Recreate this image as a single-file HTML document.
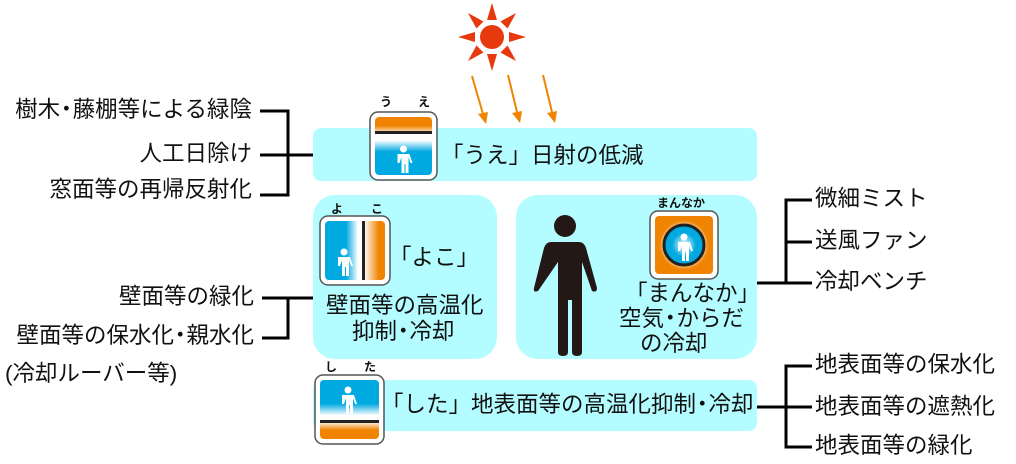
<!DOCTYPE html>
<html><head><meta charset="utf-8"><style>
body{margin:0;width:1016px;height:464px;background:#fff;position:relative;overflow:hidden;font-family:"Liberation Sans","Noto Sans CJK JP",sans-serif;color:#111}
.t{position:absolute;font-size:22.5px;white-space:nowrap;line-height:1}
.d{margin:0 -5px}
.box{position:absolute;background:#b3fcff}
.s{position:absolute;font-size:12px;font-weight:bold;line-height:1}
</style></head><body>
<div class="box" style="left:313px;top:128px;width:444px;height:53px;border-radius:8px"></div>
<div class="box" style="left:313px;top:195px;width:184px;height:164px;border-radius:22px"></div>
<div class="box" style="left:516px;top:195px;width:241px;height:164px;border-radius:22px"></div>
<div class="box" style="left:313px;top:380px;width:444px;height:51px;border-radius:8px"></div>

<svg width="1016" height="464" style="position:absolute;left:0;top:0">
<defs>
<linearGradient id="gu" x1="0" y1="0" x2="0" y2="1"><stop offset="0" stop-color="#f08300"/><stop offset="0.15" stop-color="#f08300"/><stop offset="0.3" stop-color="#fff"/><stop offset="0.4" stop-color="#fff"/><stop offset="0.6" stop-color="#00a9e0"/></linearGradient>
<linearGradient id="gd" x1="0" y1="1" x2="0" y2="0"><stop offset="0" stop-color="#f08300"/><stop offset="0.15" stop-color="#f08300"/><stop offset="0.3" stop-color="#fff"/><stop offset="0.4" stop-color="#fff"/><stop offset="0.6" stop-color="#00a9e0"/></linearGradient>
<linearGradient id="gy" x1="1" y1="0" x2="0" y2="0"><stop offset="0" stop-color="#f08300"/><stop offset="0.1" stop-color="#f08300"/><stop offset="0.35" stop-color="#fff"/><stop offset="0.45" stop-color="#fff"/><stop offset="0.65" stop-color="#00a9e0"/></linearGradient>
<radialGradient id="gm"><stop offset="0.55" stop-color="#fff"/><stop offset="0.85" stop-color="#f08300"/></radialGradient>
<radialGradient id="gc"><stop offset="0" stop-color="#fff"/><stop offset="0.6" stop-color="#00a9e0"/></radialGradient>
<g id="p" fill="#fff"><circle cx="0" cy="-9" r="3.5"/><path d="M-6,-4 h12 l3,9 h-2 l-2,-6 v16 h-3 v-9 h-1 v9 h-3 v-16 l-2,6 h-2z"/></g>
</defs>
<g fill="#e8380d"><circle cx="492" cy="37" r="12"/>
<g id="ray"><polygon points="487,20 497,20 492,3"/></g>
<use href="#ray" transform="rotate(45 492 37)"/><use href="#ray" transform="rotate(90 492 37)"/><use href="#ray" transform="rotate(135 492 37)"/><use href="#ray" transform="rotate(180 492 37)"/><use href="#ray" transform="rotate(225 492 37)"/><use href="#ray" transform="rotate(270 492 37)"/><use href="#ray" transform="rotate(315 492 37)"/></g>
<g stroke="#f08300" stroke-width="2" fill="#f08300">
<line x1="472" y1="76" x2="483" y2="114"/><polygon stroke="none" points="478,114 488,112 486,124"/>
<line x1="508" y1="75" x2="517" y2="112"/><polygon stroke="none" points="512,113 522,111 520,123"/>
<line x1="543" y1="75" x2="552" y2="112"/><polygon stroke="none" points="547,113 557,111 555,123"/>
</g>
<g stroke="#000" stroke-width="3" fill="none">
<path d="M260,111 H288 V195 H260 M260,155 H313"/>
<path d="M262,298 H288 V338 H262 M288,298 H313"/>
<path d="M812,200 H786 V283 H812 M757,283 H786 M786,242 H812"/>
<path d="M812,366 H786 V447 H812 M757,407 H812"/>
</g>
<rect x="370" y="112" width="67" height="68" rx="8" fill="#fff" stroke="#555" stroke-width="1.5"/>
<rect x="375" y="117" width="57" height="58" rx="4" fill="url(#gu)"/>
<rect x="375" y="131" width="57" height="3" fill="#222"/>
<use href="#p" x="403.5" y="158"/>
<rect x="320" y="216" width="70" height="69" rx="8" fill="#fff" stroke="#555" stroke-width="1.5"/>
<rect x="325" y="221" width="60" height="59" rx="4" fill="url(#gy)"/>
<rect x="362" y="221" width="3" height="59" fill="#222"/>
<use href="#p" x="344" y="261"/>
<rect x="650" y="211" width="68" height="68" rx="8" fill="#fff" stroke="#555" stroke-width="1.5"/>
<rect x="655" y="216" width="58" height="58" rx="4" fill="url(#gm)"/>
<circle cx="684" cy="245" r="20" fill="url(#gc)" stroke="#222" stroke-width="3"/>
<use href="#p" x="684" y="246"/>
<rect x="315" y="375" width="69" height="69" rx="8" fill="#fff" stroke="#555" stroke-width="1.5"/>
<rect x="320" y="380" width="59" height="59" rx="4" fill="url(#gd)"/>
<rect x="320" y="420" width="59" height="3" fill="#222"/>
<use href="#p" x="348" y="399"/>
<g fill="#231815"><circle cx="565" cy="226" r="11"/>
<path d="M551,242 H579 Q584,242 586,248 L597,288 Q597,293 592,291 L582,262 V352 Q582,356 577,356 Q572,356 572,352 V300 H568 V352 Q568,356 563,356 Q558,356 558,352 V262 L538,291 Q533,293 534,288 L544,248 Q546,242 551,242Z"/></g>
</svg>

<div class="s" style="left:380px;top:96px">う</div><div class="s" style="left:418px;top:96px">え</div>
<div class="s" style="left:331px;top:203px">よ</div><div class="s" style="left:371px;top:203px">こ</div>
<div class="s" style="left:657px;top:197px">まんなか</div>
<div class="s" style="left:325px;top:361px">し</div><div class="s" style="left:364px;top:361px">た</div>

<div class="t" style="left:441px;top:145px">「うえ」日射の低減</div>
<div class="t" style="left:389px;top:247px">「よこ」</div>
<div class="t" style="left:326px;top:295px">壁面等の高温化</div>
<div class="t" style="left:352px;top:321px">抑制<span class="d">・</span>冷却</div>
<div class="t" style="left:625px;top:283px">「まんなか」</div>
<div class="t" style="left:619px;top:308px">空気<span class="d">・</span>からだ</div>
<div class="t" style="left:640px;top:333px">の冷却</div>
<div class="t" style="left:381px;top:394px">「した」地表面等の高温化抑制<span class="d">・</span>冷却</div>

<div class="t" style="right:764px;top:99px">樹木<span class="d">・</span>藤棚等による緑陰</div>
<div class="t" style="right:764px;top:143px">人工日除け</div>
<div class="t" style="right:764px;top:179px">窓面等の再帰反射化</div>
<div class="t" style="right:762px;top:286px">壁面等の緑化</div>
<div class="t" style="right:762px;top:325px">壁面等の保水化<span class="d">・</span>親水化</div>
<div class="t" style="left:5px;top:363px">(冷却ルーバー等)</div>
<div class="t" style="left:815px;top:188px">微細ミスト</div>
<div class="t" style="left:815px;top:230px">送風ファン</div>
<div class="t" style="left:815px;top:271px">冷却ベンチ</div>
<div class="t" style="left:815px;top:354px">地表面等の保水化</div>
<div class="t" style="left:815px;top:396px">地表面等の遮熱化</div>
<div class="t" style="left:815px;top:435px">地表面等の緑化</div>
</body></html>
